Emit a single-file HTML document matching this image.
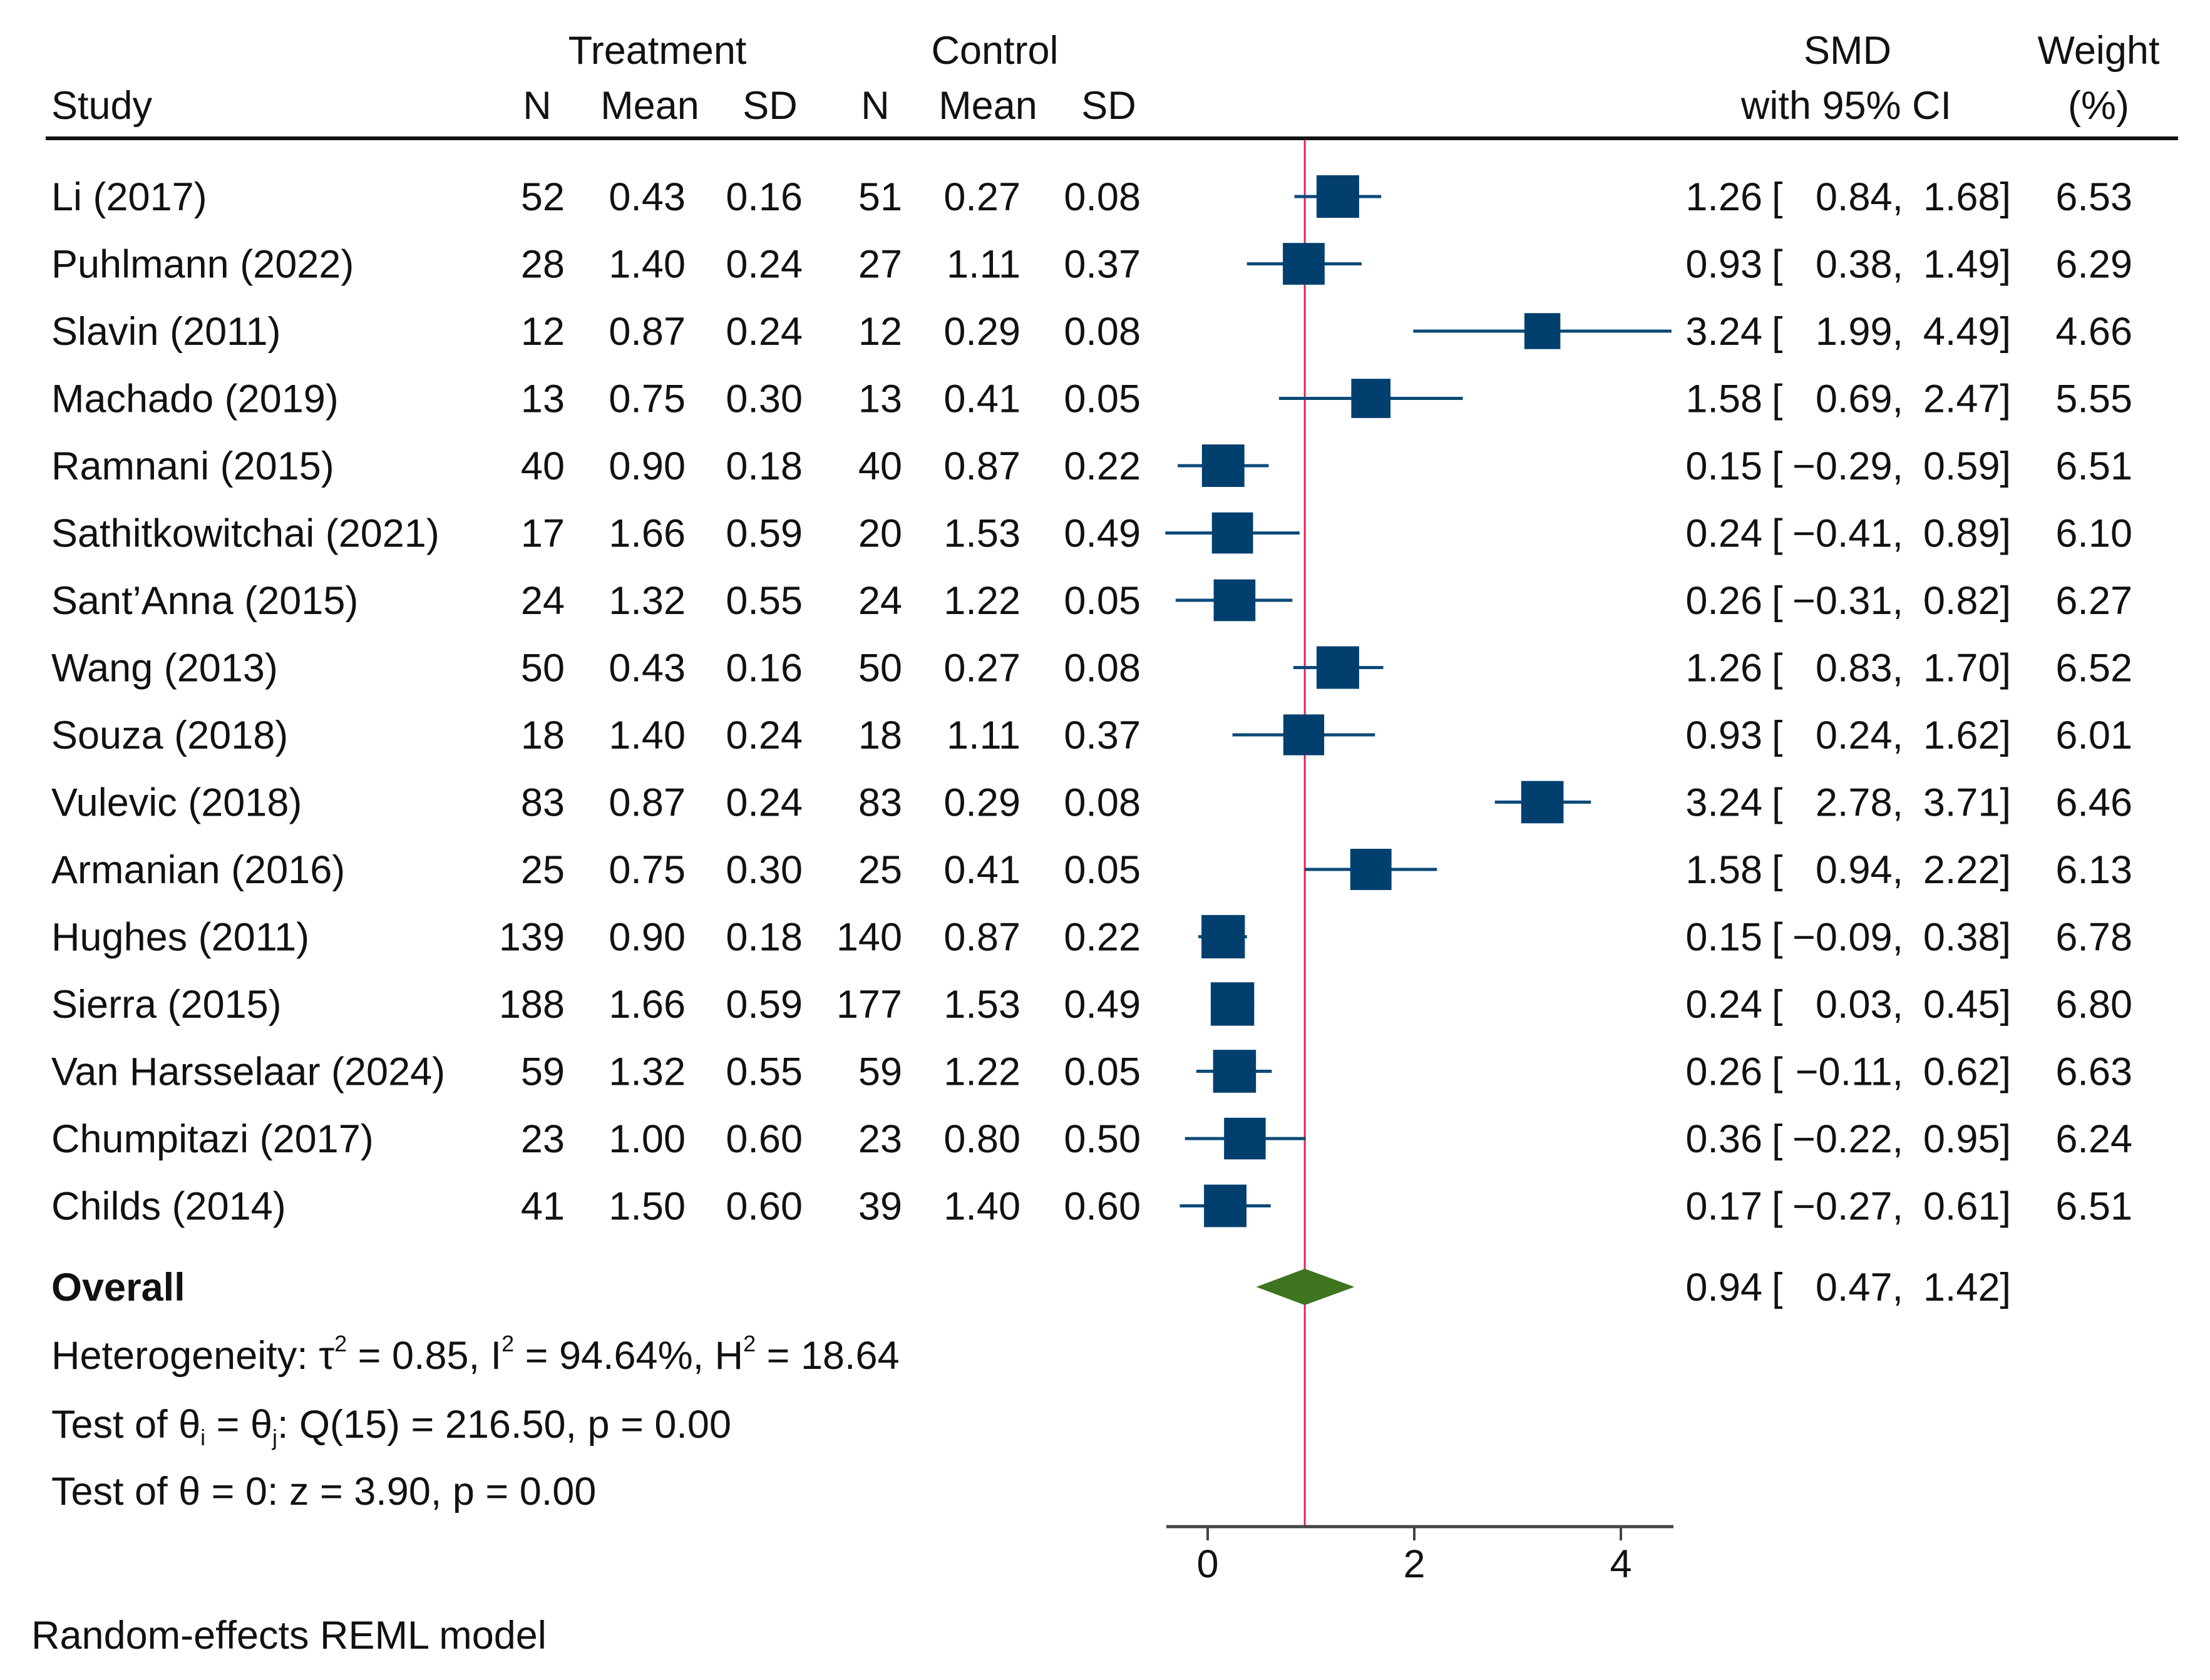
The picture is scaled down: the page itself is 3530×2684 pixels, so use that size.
<!DOCTYPE html>
<html><head><meta charset="utf-8"><style>
html,body{margin:0;padding:0;background:#fff;}
svg{display:block;font-family:"Liberation Sans",Arial,sans-serif;}
text{fill:#111;font-size:63px;}
</style></head><body>
<svg id="chart" width="3530" height="2684" viewBox="0 0 3530 2684" xmlns="http://www.w3.org/2000/svg">
<g id="header">
<text x="1050" y="102" text-anchor="middle">Treatment</text>
<text x="1589" y="102" text-anchor="middle">Control</text>
<text x="2951" y="102" text-anchor="middle">SMD</text>
<text x="3352" y="102" text-anchor="middle">Weight</text>
<text x="82" y="190">Study</text>
<text x="858" y="190" text-anchor="middle">N</text>
<text x="1038" y="190" text-anchor="middle">Mean</text>
<text x="1230" y="190" text-anchor="middle">SD</text>
<text x="1398" y="190" text-anchor="middle">N</text>
<text x="1578" y="190" text-anchor="middle">Mean</text>
<text x="1771" y="190" text-anchor="middle">SD</text>
<text x="2949" y="190" text-anchor="middle">with 95% CI</text>
<text x="3352" y="190" text-anchor="middle">(%)</text>
</g>
<line x1="73" y1="221" x2="3479" y2="221" stroke="#111" stroke-width="6"/>
<g id="rows"></g>
<g id="summary">
<text x="82" y="2078" font-weight="bold">Overall</text>
<text x="82" y="2187">Heterogeneity: τ<tspan dy="-28" font-size="36">2</tspan><tspan dy="28"> = 0.85, I</tspan><tspan dy="-28" font-size="36">2</tspan><tspan dy="28"> = 94.64%, H</tspan><tspan dy="-28" font-size="36">2</tspan><tspan dy="28"> = 18.64</tspan></text>
<text x="82" y="2297">Test of θ<tspan dy="12" font-size="36">i</tspan><tspan dy="-12"> = θ</tspan><tspan dy="12" font-size="36">j</tspan><tspan dy="-12">: Q(15) = 216.50, p = 0.00</tspan></text>
<text x="82" y="2404">Test of θ = 0: z = 3.90, p = 0.00</text>
<text x="50" y="2634">Random-effects REML model</text>
</g>
<g id="axis"></g>
</svg>
<script>
const studies = ["Li (2017)","Puhlmann (2022)","Slavin (2011)","Machado (2019)","Ramnani (2015)","Sathitkowitchai (2021)","Sant\u2019Anna (2015)","Wang (2013)","Souza (2018)","Vulevic (2018)","Armanian (2016)","Hughes (2011)","Sierra (2015)","Van Harsselaar (2024)","Chumpitazi (2017)","Childs (2014)"];
const tN = [52,28,12,13,40,17,24,50,18,83,25,139,188,59,23,41];
const tMean = ["0.43","1.40","0.87","0.75","0.90","1.66","1.32","0.43","1.40","0.87","0.75","0.90","1.66","1.32","1.00","1.50"];
const tSD = ["0.16","0.24","0.24","0.30","0.18","0.59","0.55","0.16","0.24","0.24","0.30","0.18","0.59","0.55","0.60","0.60"];
const cN = [51,27,12,13,40,20,24,50,18,83,25,140,177,59,23,39];
const cMean = ["0.27","1.11","0.29","0.41","0.87","1.53","1.22","0.27","1.11","0.29","0.41","0.87","1.53","1.22","0.80","1.40"];
const cSD = ["0.08","0.37","0.08","0.05","0.22","0.49","0.05","0.08","0.37","0.08","0.05","0.22","0.49","0.05","0.50","0.60"];
const smd = [1.26,0.93,3.24,1.58,0.15,0.24,0.26,1.26,0.93,3.24,1.58,0.15,0.24,0.26,0.36,0.17];
const lower = [0.84,0.38,1.99,0.69,-0.29,-0.41,-0.31,0.83,0.24,2.78,0.94,-0.09,0.03,-0.11,-0.22,-0.27];
const upper = [1.68,1.49,4.49,2.47,0.59,0.89,0.82,1.70,1.62,3.71,2.22,0.38,0.45,0.62,0.95,0.61];
const weight = [6.53,6.29,4.66,5.55,6.51,6.10,6.27,6.52,6.01,6.46,6.13,6.78,6.80,6.63,6.24,6.51];
const overall = [0.94,0.47,1.42];
const xTicks = [0,2,4];

const NS = "http://www.w3.org/2000/svg";
const X0 = 1929, UNIT = 165;
function xs(v){ return X0 + v*UNIT; }
function rowY(i){ return 314 + i*107.5; }
function fmt(v){ return (v<0?"\u2212":"") + Math.abs(v).toFixed(2); }
function mk(tag, attrs, parent){ const e=document.createElementNS(NS,tag); for(const k in attrs) e.setAttribute(k,attrs[k]); parent.appendChild(e); return e; }
function txt(parent,x,y,s,anchor){ const t=mk("text",{x:x,y:y,"text-anchor":anchor||"start"},parent); t.textContent=s; return t; }

const svg = document.getElementById("chart");
const rows = document.getElementById("rows");
const ref = mk("line",{x1:xs(overall[0]),x2:xs(overall[0]),y1:223,y2:2439,stroke:"#e0245a","stroke-width":3},svg);


svg.insertBefore(ref, rows);

studies.forEach((s,i)=>{
  const g = mk("g",{},rows);
  
  
  const y = rowY(i), ty = y+22;
  txt(g,82,ty,s);
  txt(g,902,ty,String(tN[i]),"end");
  txt(g,1095,ty,tMean[i],"end");
  txt(g,1282,ty,tSD[i],"end");
  txt(g,1441,ty,String(cN[i]),"end");
  txt(g,1630,ty,cMean[i],"end");
  txt(g,1822,ty,cSD[i],"end");
  txt(g,2815,ty,fmt(smd[i]),"end");
  txt(g,2830,ty,"[");
  txt(g,3040,ty,fmt(lower[i])+",","end");
  txt(g,3212,ty,fmt(upper[i])+"]","end");
  txt(g,3406,ty,weight[i].toFixed(2),"end");
  const ci = mk("line",{x1:xs(lower[i]),x2:xs(upper[i]),y1:y,y2:y,stroke:"#0b4a78","stroke-width":5},g);
  
  
  const side = 68*Math.sqrt(weight[i]/6.53);
  const sq = mk("rect",{x:xs(smd[i])-side/2,y:y-side/2,width:side,height:side,fill:"#003f6e"},g);
  
  
});

const oy = 2056;
const dia = mk("polygon",{points:`${xs(overall[1])},${oy} ${xs(overall[0])},${oy-29} ${xs(overall[2])},${oy} ${xs(overall[0])},${oy+29}`,fill:"#3e7320"},svg);


const og = mk("g",{},svg);


txt(og,2815,oy+22,fmt(overall[0]),"end");
txt(og,2830,oy+22,"[");
txt(og,3040,oy+22,fmt(overall[1])+",","end");
txt(og,3212,oy+22,fmt(overall[2])+"]","end");

const ax = document.getElementById("axis");
const al = mk("line",{x1:1863,x2:2673,y1:2439,y2:2439,stroke:"#444","stroke-width":5},ax);


xTicks.forEach(v=>{
  const tk = mk("line",{x1:xs(v),x2:xs(v),y1:2439,y2:2461,stroke:"#444","stroke-width":4},ax);
  
  
  const tl = txt(ax,xs(v),2520,String(v),"middle");
  
  
});
</script>
</body></html>
